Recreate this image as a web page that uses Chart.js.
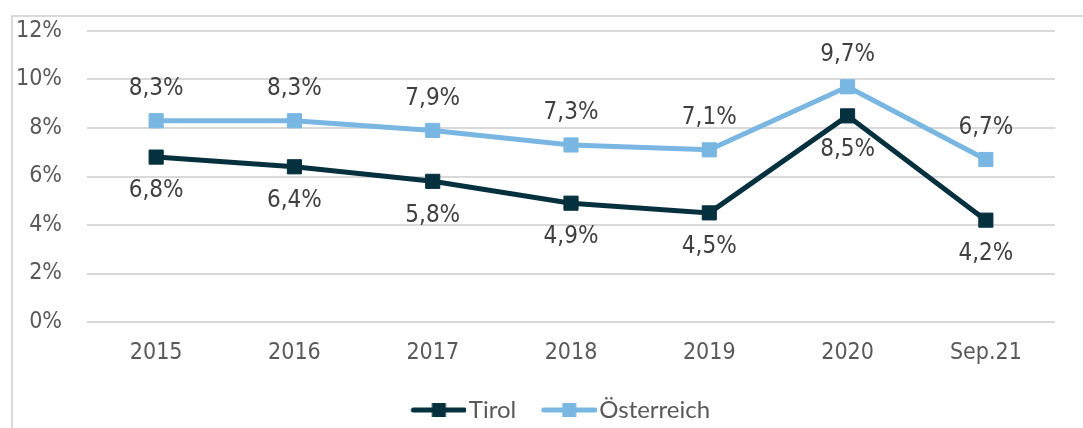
<!DOCTYPE html>
<html>
<head>
<meta charset="utf-8">
<script src="https://cdn.jsdelivr.net/npm/chart.js@4"></script>
<style>
  html, body { margin: 0; padding: 0; background: #fff; overflow: hidden; }
  #frame {
    position: absolute; left: 11px; top: 15px; width: 1072px; height: 417px;
    border-left: 2px solid #d9d9d9; border-top: 2px solid #d9d9d9;
  }
  #wrap { position: relative; width: 1070px; height: 415px; }
</style>
</head>
<body>
<div id="frame"><div id="wrap"><canvas id="chart"></canvas></div></div>
<script>
const categories = ['2015', '2016', '2017', '2018', '2019', '2020', 'Sep.21'];
const tirol = [6.8, 6.4, 5.8, 4.9, 4.5, 8.5, 4.2];
const oesterreich = [8.3, 8.3, 7.9, 7.3, 7.1, 9.7, 6.7];
const yTicks = [0, 2, 4, 6, 8, 10, 12];

const darkColor = '#05313f';
const lightColor = '#79b7e2';
const textColor = '#404040';
const tickFont = '"DejaVu Sans Condensed", "DejaVu Sans", sans-serif';

// small legend marker: line with a square in the middle
function legendMarker(color) {
    const c = document.createElement('canvas');
    c.width = 80;
    c.height = 16;
    const g = c.getContext('2d');
    g.strokeStyle = color;
    g.lineWidth = 5;
    g.lineCap = 'round';
    g.beginPath();
    g.moveTo(27, 8);
    g.lineTo(78, 8);
    g.stroke();
    g.fillStyle = color;
    g.fillRect(45.5, 1, 14, 14);
    return c;
}
const markers = [legendMarker(darkColor), legendMarker(lightColor)];

// draws value labels above / below points
const valueLabels = {
    id: 'valueLabels',
    afterDatasetsDraw(chart) {
        const ctx = chart.ctx;
        ctx.save();
        ctx.font = '24px ' + tickFont;
        ctx.fillStyle = textColor;
        ctx.textAlign = 'center';
        ctx.textBaseline = 'middle';
        chart.data.datasets.forEach((ds, i) => {
            const meta = chart.getDatasetMeta(i);
            const offset = ds.labelOffset;
            meta.data.forEach((pt, j) => {
                const txt = ds.data[j].toFixed(1).replace('.', ',') + '%';
                ctx.fillText(txt, pt.x, pt.y + offset);
            });
        });
        ctx.restore();
    }
};

// nudge the legend a bit to the right, like in the original
const legendShift = {
    id: 'legendShift',
    afterLayout(chart) {
        if (chart.legend) {
            chart.legend.left += 19;
            chart.legend.right += 19;
        }
    }
};

new Chart(document.getElementById('chart'), {
    type: 'line',
    data: {
        labels: categories,
        datasets: [
            {
                label: 'Tirol',
                data: tirol,
                borderColor: darkColor,
                backgroundColor: darkColor,
                borderWidth: 5,
                pointStyle: 'rect',
                pointRadius: 10,
                pointBorderWidth: 1,
                pointBorderColor: darkColor,
                tension: 0,
                labelOffset: 34
            },
            {
                label: 'Österreich',
                data: oesterreich,
                borderColor: lightColor,
                backgroundColor: lightColor,
                borderWidth: 5,
                pointStyle: 'rect',
                pointRadius: 10,
                pointBorderWidth: 1,
                pointBorderColor: lightColor,
                tension: 0,
                labelOffset: -32
            }
        ]
    },
    options: {
        responsive: true,
        maintainAspectRatio: false,
        animation: false,
        layout: { padding: { top: 14, right: 28, left: 0, bottom: 0 } },
        plugins: {
            tooltip: { enabled: false },
            legend: {
                position: 'bottom',
                labels: {
                    usePointStyle: true,
                    pointStyleWidth: 61,
                    padding: 10,
                    color: '#595959',
                    font: { family: 'Lato, sans-serif', size: 24 },
                    generateLabels(chart) {
                        return chart.data.datasets.map((ds, i) => ({
                            text: ds.label,
                            pointStyle: markers[i],
                            fillStyle: ds.borderColor,
                            strokeStyle: ds.borderColor,
                            lineWidth: 0,
                            hidden: false,
                            datasetIndex: i,
                            fontColor: '#595959'
                        }));
                    }
                }
            }
        },
        scales: {
            x: {
                offset: true,
                grid: { display: false, drawTicks: false, offset: true },
                border: { display: false },
                ticks: {
                    color: '#595959',
                    padding: 17,
                    font: { family: tickFont, size: 23 }
                },
                afterFit(scale) { scale.height = 66; }
            },
            y: {
                min: 0,
                max: 12,
                afterBuildTicks(scale) { scale.ticks = yTicks.map(v => ({ value: v })); },
                grid: { color: '#d9d9d9', lineWidth: 2, drawTicks: false },
                border: { display: false },
                ticks: {
                    color: '#595959',
                    padding: 25,
                    font: { family: tickFont, size: 23 },
                    callback: v => v + '%'
                },
                afterFit(scale) {
                    scale.width = 74;
                    scale.paddingTop = 0;
                    scale.paddingBottom = 0;
                }
            }
        }
    },
    plugins: [valueLabels, legendShift]
});
</script>
</body>
</html>
